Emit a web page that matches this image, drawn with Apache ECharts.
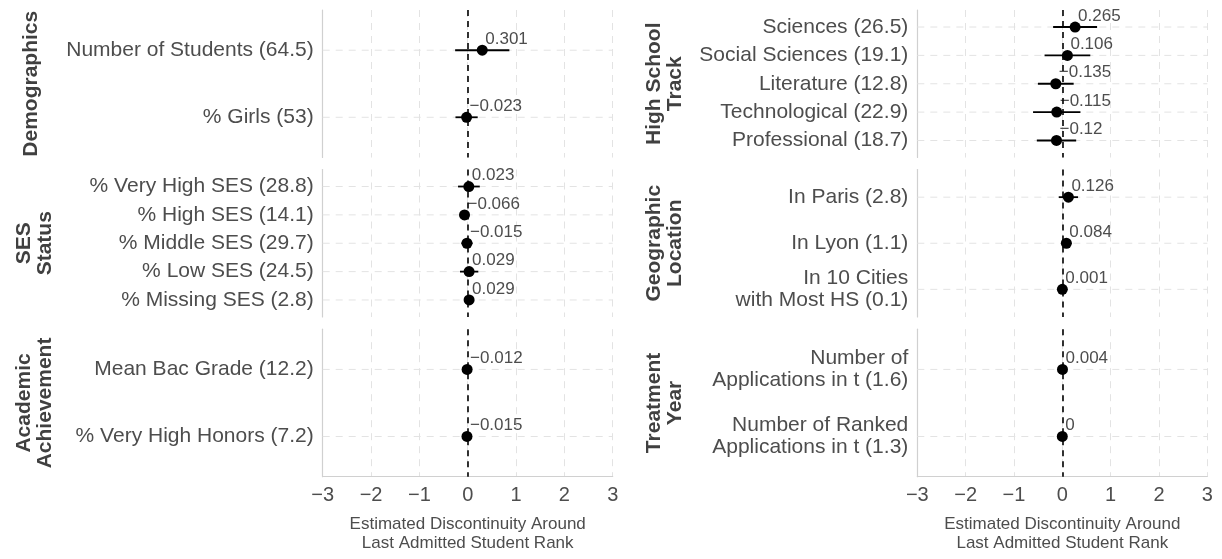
<!DOCTYPE html>
<html>
<head>
<meta charset="utf-8">
<script src="https://cdn.jsdelivr.net/npm/echarts@6/dist/echarts.min.js"></script>
<style>
html,body{margin:0;padding:0;background:#fff;}
#chart{width:1222px;height:559px;}
</style>
</head>
<body>
<div id="chart"></div>
<script>
// ---- Data ----
const demoCats = ['Number of Students (64.5)', '% Girls (53)'];
const demoEst  = [0.301, -0.023];
const demoLo   = [-0.26, -0.253];
const demoHi   = [0.862, 0.207];

const sesCats = ['% Very High SES (28.8)', '% High SES (14.1)', '% Middle SES (29.7)', '% Low SES (24.5)', '% Missing SES (2.8)'];
const sesEst  = [0.023, -0.066, -0.015, 0.029, 0.029];
const sesLo   = [-0.2, -0.14, -0.13, -0.16, -0.05];
const sesHi   = [0.25, 0.01, 0.10, 0.22, 0.11];

const acadCats = ['Mean Bac Grade (12.2)', '% Very High Honors (7.2)'];
const acadEst  = [-0.012, -0.015];
const acadLo   = [-0.06, -0.065];
const acadHi   = [0.036, 0.035];

const trackCats = ['Sciences (26.5)', 'Social Sciences (19.1)', 'Literature (12.8)', 'Technological (22.9)', 'Professional (18.7)'];
const trackEst  = [0.265, 0.106, -0.135, -0.115, -0.12];
const trackLo   = [-0.19, -0.367, -0.505, -0.605, -0.527];
const trackHi   = [0.72, 0.579, 0.235, 0.375, 0.287];

const geoCats = ['In Paris (2.8)', 'In Lyon (1.1)', 'In 10 Cities\nwith Most HS (0.1)'];
const geoEst  = [0.126, 0.084, 0.001];
const geoLo   = [-0.074, -0.02, -0.05];
const geoHi   = [0.326, 0.188, 0.052];

const yearCats = ['Number of\nApplications in t (1.6)', 'Number of Ranked\nApplications in t (1.3)'];
const yearEst  = [0.004, 0];
const yearLo   = [-0.045, -0.05];
const yearHi   = [0.053, 0.05];

const stripTitles = ['Demographics', 'SES\nStatus', 'Academic\nAchievement', 'High School\nTrack', 'Geographic\nLocation', 'Treatment\nYear'];
const xMin = -3, xMax = 3, xStep = 1;
const axisTitle = 'Estimated Discontinuity Around\nLast Admitted Student Rank';

// ---- Build ----
const panels = [
  {cats: demoCats, est: demoEst, lo: demoLo, hi: demoHi},
  {cats: sesCats, est: sesEst, lo: sesLo, hi: sesHi},
  {cats: acadCats, est: acadEst, lo: acadLo, hi: acadHi},
  {cats: trackCats, est: trackEst, lo: trackLo, hi: trackHi},
  {cats: geoCats, est: geoEst, lo: geoLo, hi: geoHi},
  {cats: yearCats, est: yearEst, lo: yearLo, hi: yearHi}
];

const colX = [322.7, 917.3];
const panelW = 290;
const rowY = [10, 169.5, 329.2];
const panelH = 147.5;
const FONT = 'Liberation Sans, Arial, sans-serif';
const TXT = '#4d4d4d';
const GRIDC = '#e3e3e3';
const AXC = '#d0d0d0';

function fmt(v) {
  return (v < 0 ? '\u2212' : '') + String(Math.abs(v));
}

const grids = [], xAxes = [], yAxes = [], series = [], graphics = [];
panels.forEach((p, k) => {
  const col = k < 3 ? 0 : 1;
  const row = k % 3;
  const bottom = row === 2;
  grids.push({left: colX[col], top: rowY[row], width: panelW, height: panelH, containLabel: false});
  xAxes.push({
    gridIndex: k, type: 'value', min: xMin, max: xMax, interval: xStep,
    axisLine: {show: bottom, onZero: false, lineStyle: {color: AXC, width: 1.2}},
    axisTick: {show: false},
    axisLabel: {show: bottom, color: TXT, fontSize: 20, fontFamily: FONT, margin: 9,
      formatter: v => fmt(v)},
    splitLine: {show: true, lineStyle: {color: GRIDC, type: [7, 6], width: 1}},
    name: bottom ? axisTitle : '',
    nameLocation: 'middle', nameGap: 38,
    nameTextStyle: {color: TXT, fontSize: 17, fontFamily: FONT, lineHeight: 19}
  });
  const n = p.cats.length;
  yAxes.push({
    gridIndex: k, type: 'value', min: -0.6, max: n - 0.4, inverse: true,
    axisLine: {show: true, onZero: false, lineStyle: {color: AXC, width: 1.2}},
    axisTick: {show: false},
    splitLine: {show: false},
    axisLabel: {show: true, color: TXT, fontSize: 21, fontFamily: FONT, margin: 9, lineHeight: 22,
      align: 'right',
      customValues: p.cats.map((c, i) => i),
      formatter: v => p.cats[Math.round(v)] || ''}
  });
  const rows = p.cats.map((c, i) => [p.lo[i], p.hi[i], i]);
  series.push({
    type: 'custom', xAxisIndex: k, yAxisIndex: k, z: 2, silent: true,
    data: rows,
    renderItem: (params, api) => {
      const i = api.value(2);
      const g0 = api.coord([xMin, i]), g1 = api.coord([xMax, i]);
      const a = api.coord([api.value(0), i]), b = api.coord([api.value(1), i]);
      return {type: 'group', children: [
        {type: 'line', shape: {x1: g0[0], y1: g0[1], x2: g1[0], y2: g1[1]},
          style: {stroke: GRIDC, lineWidth: 1, lineDash: [7, 6]}, z2: 0},
        {type: 'line', shape: {x1: a[0], y1: a[1], x2: b[0], y2: b[1]},
          style: {stroke: '#000', lineWidth: 1.8}, z2: 5}
      ]};
    }
  });
  series.push({
    type: 'scatter', xAxisIndex: k, yAxisIndex: k, z: 4, silent: true,
    symbol: 'circle', symbolSize: 11,
    itemStyle: {color: '#000', opacity: 1},
    data: p.est.map((v, i) => [v, i]),
    label: {show: true, formatter: d => fmt(d.value[0]), position: [8.5, -5.5],
      align: 'left', verticalAlign: 'middle',
      color: TXT, fontSize: 17, fontFamily: FONT},
    markLine: {silent: true, symbol: 'none', label: {show: false},
      lineStyle: {color: '#000', type: [6, 5], width: 1.6, opacity: 1},
      data: [{xAxis: 0}], animation: false}
  });
  graphics.push({
    type: 'text', x: col === 0 ? (k === 0 ? 31 : 35) : 665, y: rowY[row] + panelH / 2, rotation: Math.PI / 2,
    style: {text: stripTitles[k], fill: '#404040', font: 'bold 21px ' + FONT,
      align: 'center', verticalAlign: 'middle', lineHeight: 21}
  });
});

const chart = echarts.init(document.getElementById('chart'), null, {renderer: 'canvas'});
chart.setOption({
  animation: false,
  backgroundColor: '#ffffff',
  grid: grids, xAxis: xAxes, yAxis: yAxes, series: series, graphic: graphics
});
</script>
</body>
</html>
